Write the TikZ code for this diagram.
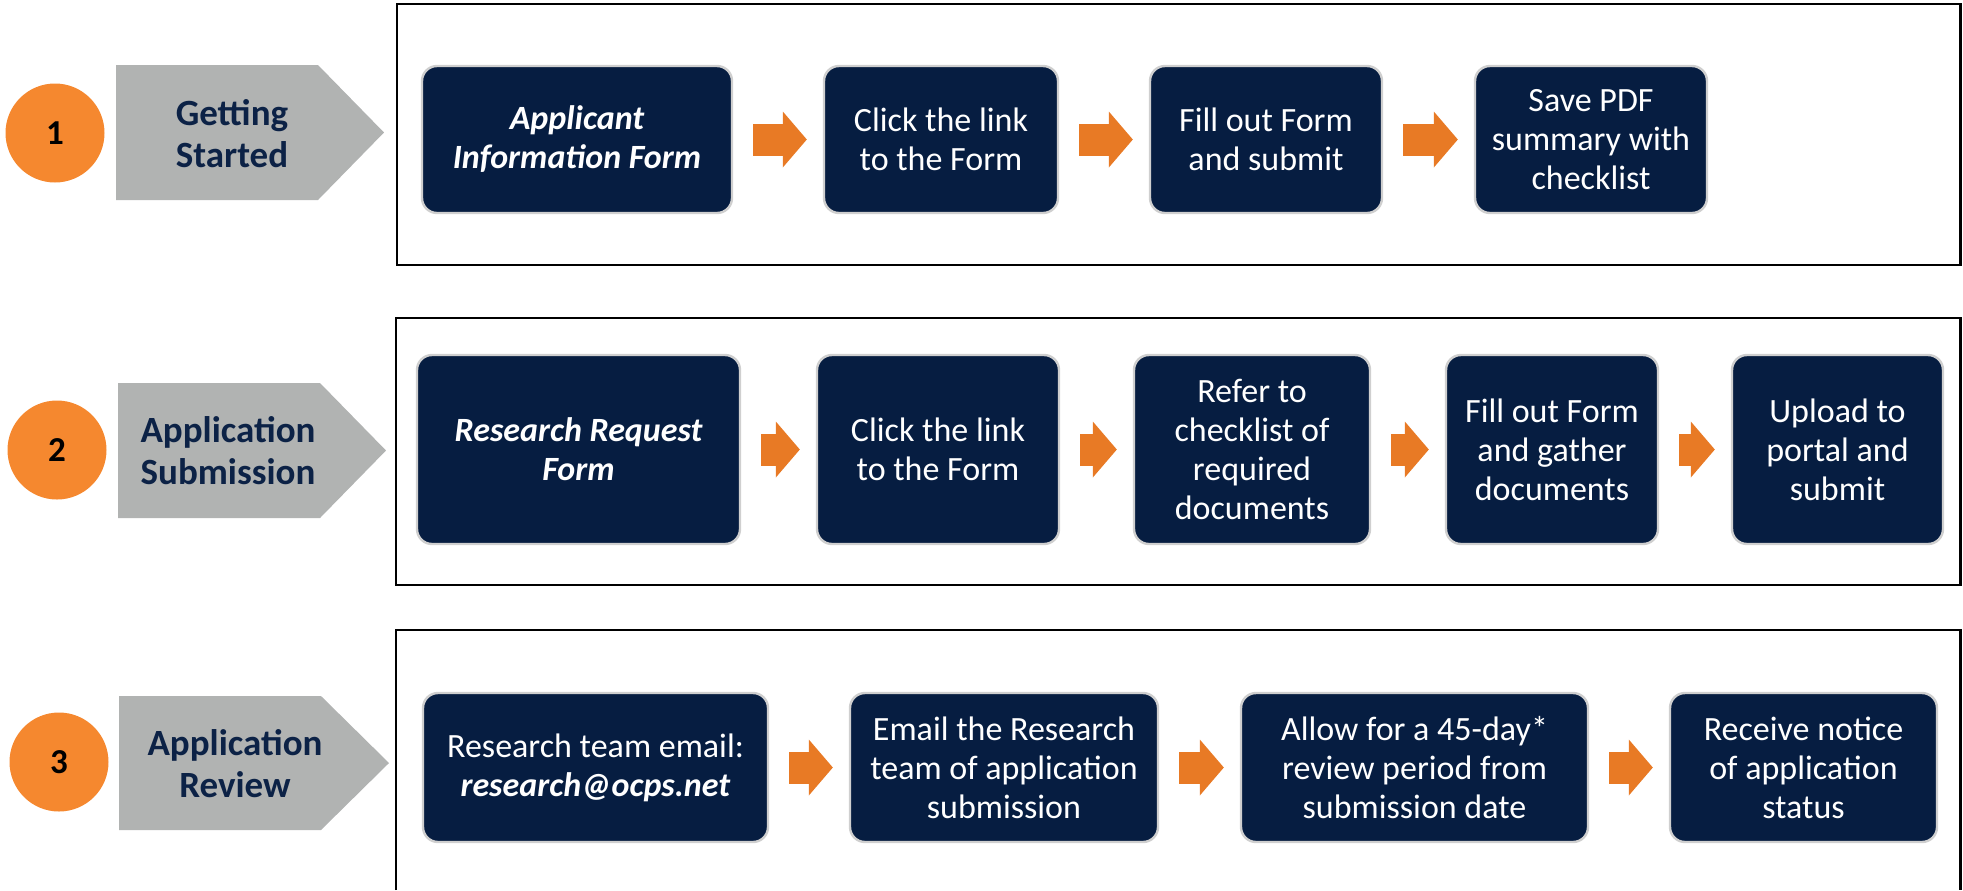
\documentclass[tikz,border=0pt]{standalone}
\usepackage{fontspec}
\setmainfont{Carlito}
\usetikzlibrary{arrows.meta}
\definecolor{navy}{HTML}{061D41}
\definecolor{navytext}{HTML}{0C2246}
\definecolor{boxedge}{HTML}{CFCFCF}
\definecolor{dotorange}{HTML}{F5882F}
\definecolor{arroworange}{HTML}{E87A25}
\definecolor{chevgray}{HTML}{B1B3B2}
\tikzset{
  stepbox/.style={rounded corners=7.5pt, fill=navy, draw=boxedge, line width=1.2pt,
    text=white, align=center, inner sep=2pt,
    font=\fontsize{17}{19.5}\selectfont},
  stepboxem/.style={stepbox, font=\fontsize{17}{19.5}\selectfont\bfseries\itshape},
  numdot/.style={circle, fill=dotorange, minimum size=49.5pt, inner sep=0pt,
    font=\fontsize{17.5}{20}\selectfont\bfseries},
  chev/.style={fill=chevgray},
  chevlabel/.style={text=navytext, align=center,
    font=\fontsize{18.5}{21}\selectfont\bfseries},
  flow/.style={draw=arroworange, line width=16pt,
    -{Triangle[length=12pt,width=28pt,line width=0pt]},
    shorten <=10pt, shorten >=8pt},
  frame/.style={draw=black, line width=1.2pt}
}
\begin{document}
\begin{tikzpicture}[x=0.5pt,y=-0.5pt]
\useasboundingbox (0,0) rectangle (1963,890);

% ---------- Row 1 ----------
\node[numdot] (n1) at (55,133) {1};
\fill[chev] (116,65) -- (318,65) -- (384,132.5) -- (318,200) -- (116,200) -- cycle;
\node[chevlabel] (s1) at (232,134) {Getting\\Started};
\draw[frame] (397,4) rectangle (1960.5,265);
\node[stepboxem, minimum width=155pt, minimum height=73.5pt] (A1) at (577,139.5) {Applicant\\Information Form};
\node[stepbox, minimum width=117pt, minimum height=73.5pt] (A2) at (941,139.5) {Click the link\\to the Form};
\node[stepbox, minimum width=116pt, minimum height=73.5pt] (A3) at (1266,139.5) {Fill out Form\\and submit};
\node[stepbox, minimum width=116pt, minimum height=73.5pt] (A4) at (1591,139.5) {Save PDF\\summary with\\checklist};
\draw[flow] (A1) -- (A2);
\draw[flow] (A2) -- (A3);
\draw[flow] (A3) -- (A4);

% ---------- Row 2 ----------
\node[numdot] (n2) at (57,450) {2};
\fill[chev] (118,383) -- (320,383) -- (386,450.5) -- (320,518) -- (118,518) -- cycle;
\node[chevlabel] (s2) at (228,451) {Application\\Submission};
\draw[frame] (396,318) rectangle (1960.5,585);
\node[stepboxem, minimum width=161.5pt, minimum height=94.5pt] (B1) at (578.5,449.5) {Research Request\\Form};
\node[stepbox, minimum width=121pt, minimum height=94.5pt] (B2) at (938,449.5) {Click the link\\to the Form};
\node[stepbox, minimum width=118pt, minimum height=94.5pt] (B3) at (1252,449.5) {Refer to\\checklist of\\required\\documents};
\node[stepbox, minimum width=106pt, minimum height=94.5pt] (B4) at (1552,449.5) {Fill out Form\\and gather\\documents};
\node[stepbox, minimum width=105.5pt, minimum height=94.5pt] (B5) at (1837.5,449.5) {Upload to\\portal and\\submit};
\draw[flow] (B1) -- (B2);
\draw[flow] (B2) -- (B3);
\draw[flow] (B3) -- (B4);
\draw[flow] (B4) -- (B5);

% ---------- Row 3 ----------
\node[numdot] (n3) at (59,762) {3};
\fill[chev] (119,696) -- (321,696) -- (389,763) -- (321,830) -- (119,830) -- cycle;
\node[chevlabel] (s3) at (235,764) {Application\\Review};
\draw[frame] (396,890) -- (396,630) -- (1960.5,630) -- (1960.5,890);
\node[stepbox, minimum width=172.5pt, minimum height=74.5pt] (C1) at (595.5,767.5) {Research team email:\\\textbf{\textit{research@ocps.net}}};
\node[stepbox, minimum width=154pt, minimum height=74.5pt] (C2) at (1004,767.5) {Email the Research\\team of application\\submission};
\node[stepbox, minimum width=173.5pt, minimum height=74.5pt] (C3) at (1414.5,767.5) {Allow for a 45-day*\\review period from\\submission date};
\node[stepbox, minimum width=133.5pt, minimum height=74.5pt] (C4) at (1803.5,767.5) {Receive notice\\of application\\status};
\draw[flow] (C1) -- (C2);
\draw[flow] (C2) -- (C3);
\draw[flow] (C3) -- (C4);
\end{tikzpicture}
\end{document}
